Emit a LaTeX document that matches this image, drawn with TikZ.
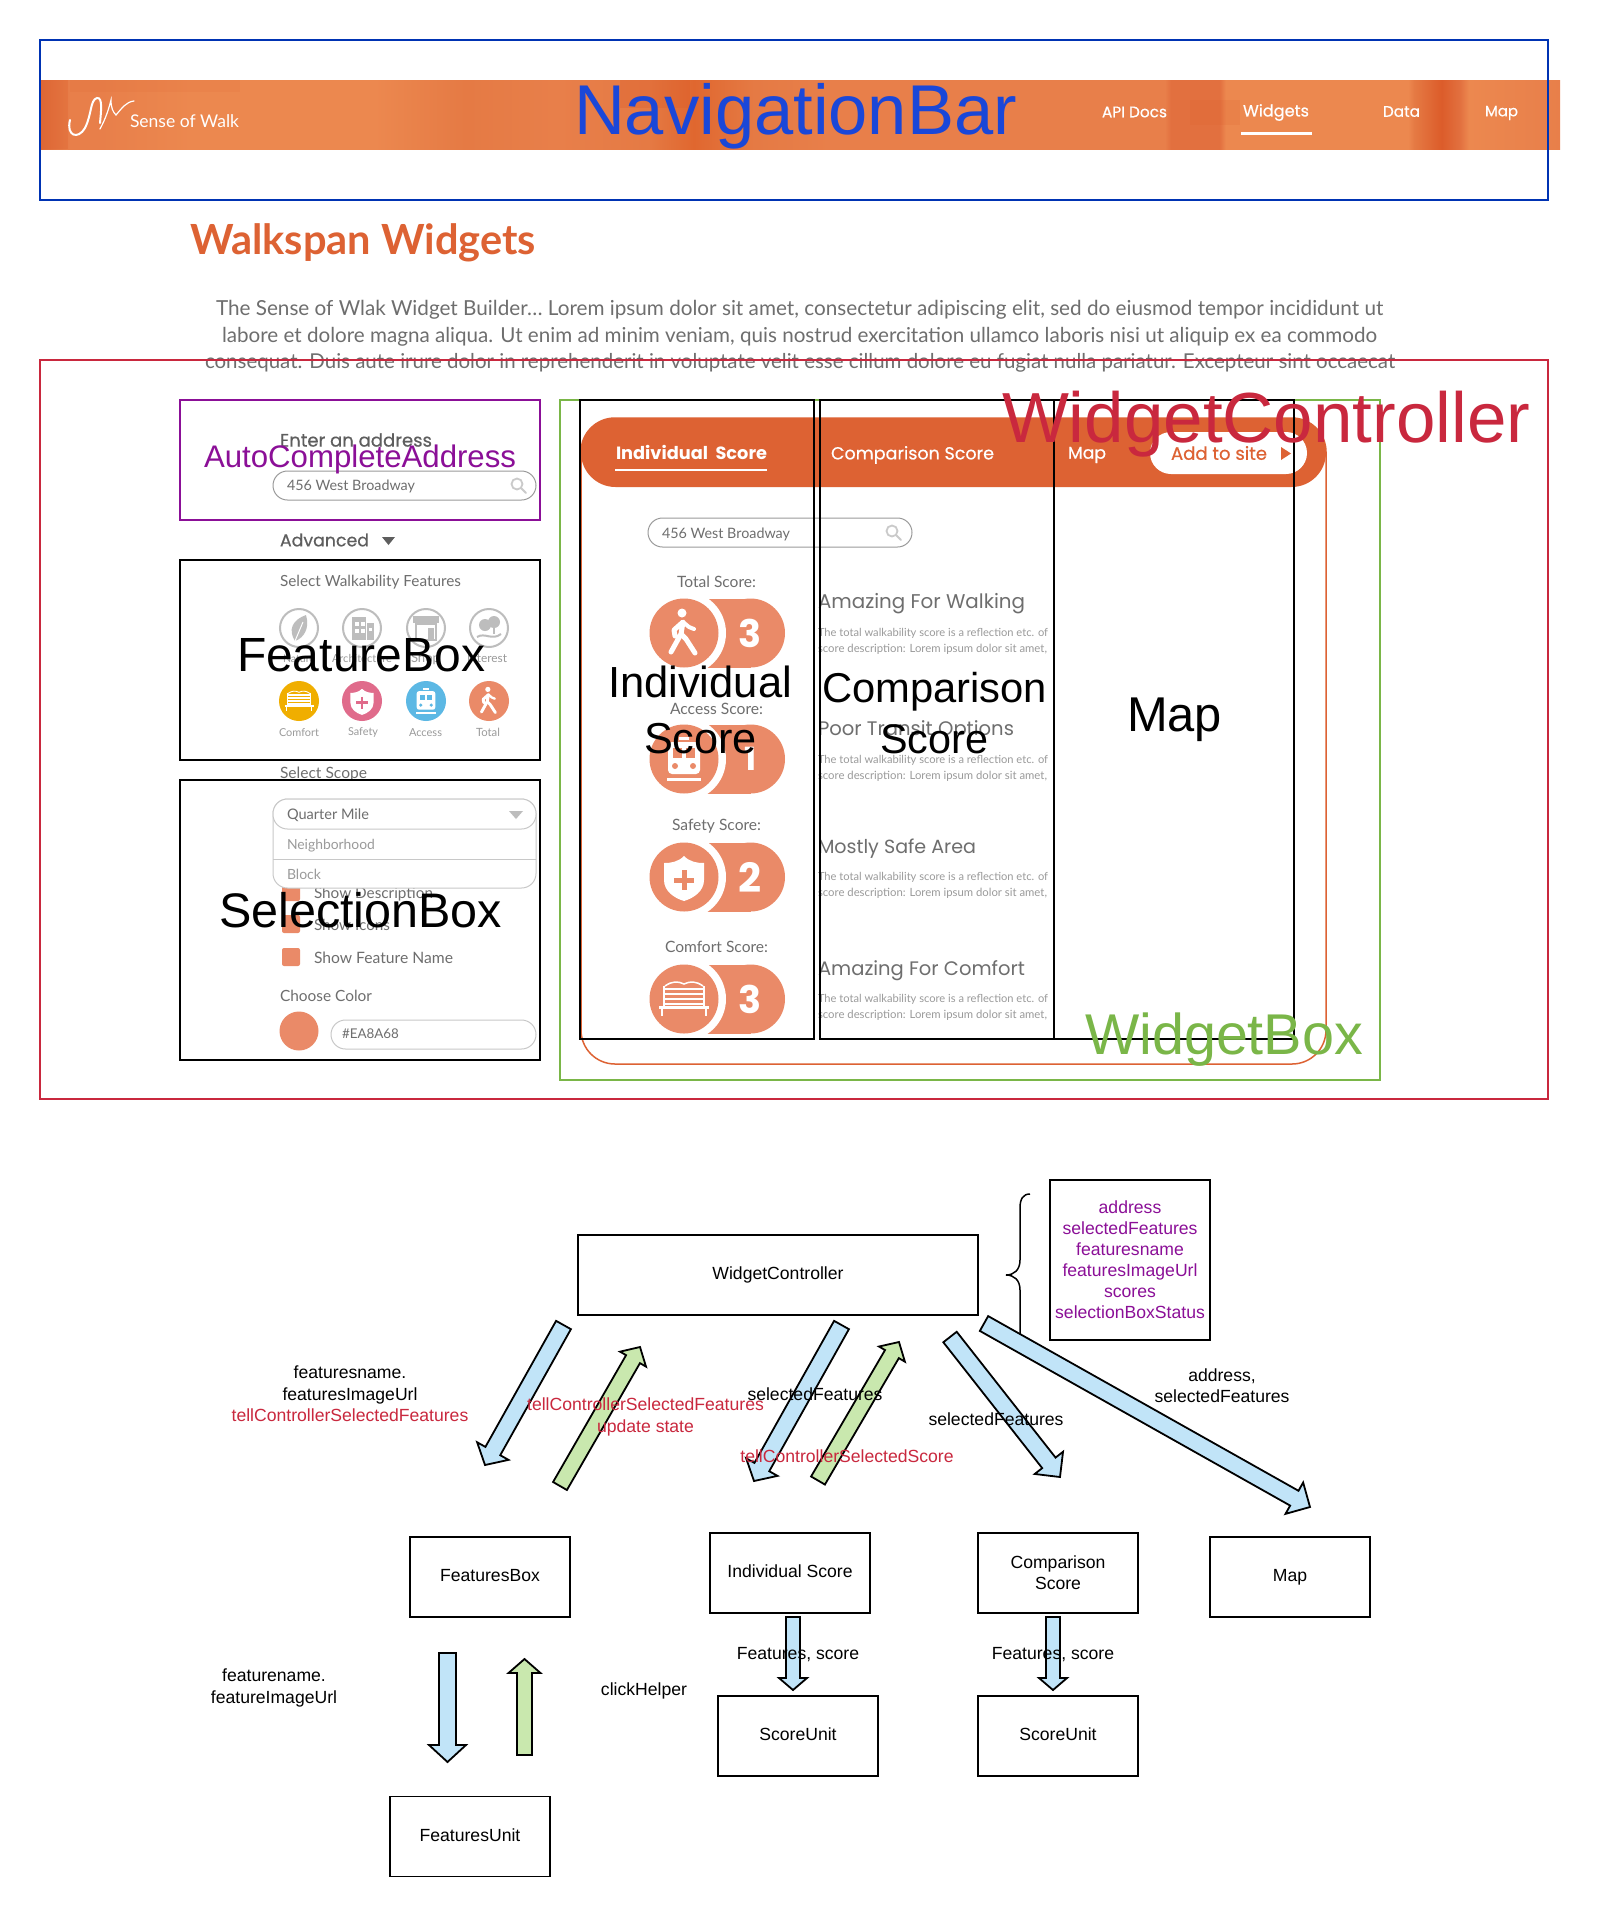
\documentclass[tikz,border=0pt]{standalone}
\usepackage{fontspec}
\usepackage{graphicx}
\usetikzlibrary{calc}
\setmainfont{Liberation Sans}
\newfontfamily\ari{Liberation Sans}
\newfontfamily\pop{Poppins}
\newfontfamily\popm[FakeBold=0.5]{Poppins}
\newfontfamily\lat{Lato}
\definecolor{navblue}{HTML}{0033B3}
\definecolor{navtext}{HTML}{1A47D8}
\definecolor{redc}{HTML}{C9283E}
\definecolor{purp}{HTML}{8B0F97}
\definecolor{greenb}{HTML}{7AB648}
\definecolor{orng}{HTML}{DD6233}
\definecolor{salm}{HTML}{EA8A68}
\definecolor{gtxt}{HTML}{6E6E6E}
\definecolor{ltxt}{HTML}{9A9A9A}
\definecolor{gic}{HTML}{BDBDBD}
\definecolor{pbord}{HTML}{C8C8C8}
\definecolor{arblue}{HTML}{C1E4F8}
\definecolor{argreen}{HTML}{C9E8AE}
\definecolor{bA}{HTML}{DE6A38}
\definecolor{bB}{HTML}{E87F4A}
\definecolor{bC}{HTML}{E0672F}
\definecolor{bD}{HTML}{E2703F}
\definecolor{bE}{HTML}{EC884F}
\definecolor{bF}{HTML}{DC5C2A}
\definecolor{bG}{HTML}{E57A44}
\definecolor{cy}{HTML}{F0AE00}
\definecolor{cp}{HTML}{E06B8B}
\definecolor{cb}{HTML}{5CB8E4}
% banner: position = 25 + 50*(x-40)/1520
\pgfdeclarehorizontalshading{bannershade}{100bp}{
 color(0bp)=(bA); color(25bp)=(bA); color(26bp)=(bB); color(27bp)=(bB); color(30bp)=(bE);
 color(36bp)=(bE); color(39bp)=(bG); color(42bp)=(bB); color(45bp)=(bG); color(46.5bp)=(bC);
 color(48.5bp)=(bG); color(51bp)=(bB); color(62bp)=(bB); color(62.2bp)=(bD); color(63.8bp)=(bD);
 color(64bp)=(bE); color(70bp)=(bE); color(70.2bp)=(bG); color(71.1bp)=(bF); color(71.7bp)=(bD);
 color(72bp)=(bE); color(75bp)=(bB); color(100bp)=(bB)}
\tikzset{
 lbl/.style={inner sep=0pt,outer sep=0pt,anchor=west},
 blackbox/.style={draw=black,line width=2pt,inner sep=0pt,rectangle},
 flowbox/.style={draw=black,line width=1.7pt,inner sep=0pt,rectangle,font=\fontsize{17.6pt}{21pt}\selectfont\ari,align=center,minimum width=160pt,minimum height=80pt},
 oneline/.style={text height=13pt,text depth=4pt},
 flowtxt/.style={inner sep=0pt,outer sep=0pt,align=center,font=\fontsize{17.6pt}{21.3pt}\selectfont\ari},
 blockarrow/.style={draw=black,line width=1.8pt,line join=miter},
 pillbox/.style={draw=pbord,line width=1pt,rounded corners=14.5pt,fill=white},
}
\newcounter{tc}
\newcommand\lb[6]{\stepcounter{tc}\edef\nm{t\arabic{tc}}\node[lbl,text=#4] (\nm) at (#1,#2) {\resizebox{#3pt}{!}{#5#6}};}
\newcommand\ltx[5]{\lb{#1}{#2+1.7}{#3}{#4}{\lat}{#5}}
\newcommand\barrow[6]{%
 \coordinate (bH) at ($(#2)!#5pt!(#1)$);
 \draw[blockarrow,fill=#6] ($(#1)!#3pt!90:(#2)$) -- ($(bH)!#3pt!90:(#2)$) -- ($(bH)!#4pt!90:(#2)$) -- (#2) -- ($(bH)!#4pt!-90:(#2)$) -- ($(bH)!#3pt!-90:(#2)$) -- ($(#1)!#3pt!-90:(#2)$) -- cycle;}
\newcommand\icoWalk[3]{\begin{scope}[shift={(#1,#2)},scale=#3]
 \fill[white] (-2,-20) circle (4.5);
 \draw[white,line width=#3*5pt,line cap=round,line join=round] (-13,19) -- (-3,1) -- (-1,-11) -- (-10,-3) -- (-9,3);
 \draw[white,line width=#3*5pt,line cap=round,line join=round] (-3,1) -- (2,6) -- (11,20);
 \draw[white,line width=#3*4pt,line cap=round,line join=round] (-1,-11) -- (5,-6) -- (10,-4);
\end{scope}}
\newcommand\icoTrain[4]{\begin{scope}[shift={(#1,#2)},scale=#3]
 \fill[white,rounded corners=#3*4pt] (-16,-17) rectangle (16,15);
 \fill[white] (-5,-22) rectangle (5,-19);
 \fill[#4] (-11,-11) rectangle (-2,-1);
 \fill[#4] (2,-11) rectangle (11,-1);
 \fill[#4] (-9,7) circle (3);
 \fill[#4] (9,7) circle (3);
 \fill[white] (-17,19) rectangle (17,22);
\end{scope}}
\newcommand\icoShield[4]{\begin{scope}[shift={(#1,#2)},scale=#3]
 \fill[white] (0,-21) .. controls (6,-15) and (13,-14) .. (20,-14) -- (20,3) .. controls (20,14) and (10,21) .. (0,24) .. controls (-10,21) and (-20,14) .. (-20,3) -- (-20,-14) .. controls (-13,-14) and (-6,-15) .. (0,-21) -- cycle;
 \draw[#4,line width=#3*5pt] (-10,3) -- (10,3) (0,-7) -- (0,13);
\end{scope}}
\newcommand\icoBench[3]{\begin{scope}[shift={(#1,#2)},scale=#3]
 \draw[white,line width=#3*1.5pt] (-19,-13) .. controls (-12,-18) and (-6,-18) .. (0,-15) .. controls (6,-18) and (12,-18) .. (19,-13);
 \draw[white,line width=#3*2.8pt] (-21,-10) -- (21,-10) (-21,-5) -- (21,-5) (-21,0) -- (21,0) (-21,5) -- (21,5);
 \draw[white,line width=#3*1.6pt] (-20,-13) -- (-20,7) (20,-13) -- (20,7);
 \draw[white,line width=#3*3pt] (-25,8) -- (25,8);
 \draw[white,line width=#3*2pt] (-22,9) -- (-22,17) (22,9) -- (22,17);
\end{scope}}
\newcommand\pillscore[3]{%
 \fill[salm] (690,#1-34.5) rectangle (750.5,#1+34.5);
 \fill[salm] (750.5,#1) circle (34.5);
 \fill[white] (684,#1) circle (42);
 \fill[salm] (684,#1) circle (34.5);
 \lb{750-#3/2}{#1}{#3}{white}{\pop\bfseries}{#2}
}
\newcommand\magn[2]{\draw[gic!80,line width=1.8pt,line cap=round] (#1-2,#2-2) circle (5.5) (#1+2,#2+2) -- (#1+7,#2+7);}
\begin{document}
\begin{tikzpicture}[x=1pt,y=-1pt]
\useasboundingbox (0,0) rectangle (1600,1917);
\fill[white] (0,0) rectangle (1600,1917);
% ---- navigation banner
\path[shading=bannershade] (40,80) rectangle (1560,149);
\fill[bF,opacity=.25] (40,80) rectangle (68,149);
\fill[bF,opacity=.1] (70,80) rectangle (240,92);
\fill[bF,opacity=.3] (620,80) rectangle (690,108);
\fill[bF,opacity=.15] (1190,100) rectangle (1240,125);
\draw[white,line width=2pt,line cap=round] (70,120) .. controls (66,136) and (78,140) .. (85,128) .. controls (92,114) and (90,100) .. (97,98) .. controls (103,97) and (101,112) .. (100,123);
\draw[white,line width=1.2pt,line cap=round] (100,129) .. controls (106,118) and (109,108) .. (111,100) .. controls (111,108) and (113,112) .. (116,115) .. controls (122,108) and (126,102) .. (134,101);
\ltx{130}{119}{109}{white}{Sense of Walk}
\lb{1102}{112}{65}{white}{\popm}{API Docs}
\lb{1243}{112.5}{66}{white}{\popm}{Widgets}
\lb{1383}{111.5}{37}{white}{\popm}{Data}
\lb{1485}{113}{33}{white}{\popm}{Map}
\draw[white,line width=3pt] (1241,133) -- (1312,133);
% ---- title and intro
\ltx{190}{241}{346}{orng}{\bfseries Walkspan Widgets}
\ltx{216}{308}{1167}{gtxt}{The Sense of Wlak Widget Builder… Lorem ipsum dolor sit amet, consectetur adipiscing elit, sed do eiusmod tempor incididunt ut}
\ltx{222}{335}{1155}{gtxt}{labore et dolore magna aliqua. Ut enim ad minim veniam, quis nostrud exercitation ullamco laboris nisi ut aliquip ex ea commodo}
\ltx{205}{361}{1190}{gtxt}{consequat. Duis aute irure dolor in reprehenderit in voluptate velit esse cillum dolore eu fugiat nulla pariatur. Excepteur sint occaecat}
% ---- left column
\lb{280}{440}{152}{gtxt!85!black}{\popm}{Enter an address}
\draw[gtxt!70,line width=1pt,rounded corners=14.5pt] (273,471) rectangle (536,500);
\ltx{287}{485}{128}{gtxt}{456 West Broadway}
\magn{519}{486}
\lb{280}{540}{89}{gtxt!85!black}{\popm}{Advanced}
\fill[gtxt!85!black] (382,537) -- (395,537) -- (388.5,545) -- cycle;
\ltx{280}{580}{181}{gtxt}{Select Walkability Features}
% grey icons
\foreach \cx in {299,362,426,489}{\draw[gic,line width=2pt] (\cx,628) circle (19);}
\fill[gic] (295,641) .. controls (288,630) and (292,620) .. (306,615) .. controls (310,628) and (304,638) .. (295,641) -- cycle;
\draw[white,line width=1pt] (295,641) -- (303,622);
\fill[gic] (352,617) rectangle (366,640);
\fill[gic] (367,623) rectangle (374,640);
\foreach \wx in {354.5,360.5}{\foreach \wy in {622,629}{\fill[white] (\wx,\wy) rectangle (\wx+4,\wy+4);}}
\fill[white] (369,628) rectangle (372,631);
\fill[gic] (413,616) rectangle (439,623);
\draw[gic,line width=1.6pt] (416,624) rectangle (436,640);
\fill[gic] (428,628) rectangle (434,640);
\fill[gic] (485,625) circle (6);
\fill[gic] (494,622) circle (6);
\draw[gic,line width=1.5pt] (494,622) -- (494,634);
\draw[gic,line width=2pt] (477,637) .. controls (485,632) and (492,641) .. (501,634);
\ltx{283}{657}{32}{ltxt}{Nature}
\ltx{332}{657}{60}{ltxt}{Architecture}
\ltx{411}{657}{29}{ltxt}{Shop}
\ltx{467}{657}{40}{ltxt}{Interest}
\fill[cy] (299,701) circle (20);
\icoBench{299}{701}{0.58}
\fill[cp] (362,701) circle (20);
\icoShield{362}{701}{0.58}{cp}
\fill[cb] (426,701) circle (20);
\icoTrain{426}{701}{0.58}{cb}
\fill[salm] (489,701) circle (20);
\icoWalk{489}{701}{0.58}
\ltx{279}{730.5}{40}{ltxt}{Comfort}
\ltx{348}{731}{30}{ltxt}{Safety}
\ltx{409}{731}{33}{ltxt}{Access}
\ltx{476}{730.5}{24}{ltxt}{Total}
\ltx{280}{772}{87}{gtxt}{Select Scope}
% checks
\foreach \sy in {892,924,957}{\fill[salm,rounded corners=2pt] (282,\sy-9) rectangle (300,\sy+9);}
\ltx{314}{892}{119}{gtxt}{Show Description}
\ltx{314}{923}{76}{gtxt}{Show Icons}
\ltx{314}{956.5}{139}{gtxt}{Show Feature Name}
% dropdown
\draw[pillbox] (273,799) rectangle (536,888);
\draw[pillbox] (273,799) rectangle (536,829);
\draw[pbord,line width=1pt] (273,859) -- (536,859);
\ltx{287}{814}{82}{gtxt}{Quarter Mile}
\ltx{287}{844}{88}{ltxt}{Neighborhood}
\ltx{287}{872.5}{34}{ltxt}{Block}
\fill[gic] (509,811) -- (523,811) -- (516,819) -- cycle;
\ltx{280}{994}{92}{gtxt}{Choose Color}
\fill[salm] (299,1031) circle (19.5);
\draw[pillbox] (331,1020) rectangle (536,1049);
\ltx{342}{1032}{57}{gtxt}{\#EA8A68}
% ---- widget
\draw[orng,line width=1.5pt,rounded corners=34pt] (581,418) rectangle (1326,1064);
\fill[orng,rounded corners=34.5pt] (581,418) rectangle (1326,487);
\lb{616}{452}{151}{white}{\pop\bfseries}{Individual\ \ Score}
\draw[white,line width=1.5pt] (615,470) -- (767,470);
\lb{831}{455}{163}{white}{\popm}{Comparison Score}
\lb{1068}{455}{38}{white}{\popm}{Map}
\fill[white,rounded corners=21pt] (1150,432) rectangle (1307,474);
\lb{1171}{453}{96}{orng}{\popm}{Add to site}
\fill[orng] (1281,447) -- (1291,453.5) -- (1281,460) -- cycle;
\draw[gtxt!70,line width=1pt,rounded corners=14.5pt] (648,518) rectangle (912,547);
\ltx{662}{532.5}{128}{gtxt}{456 West Broadway}
\magn{894}{533}
\ltx{677}{580}{79}{gtxt}{Total Score:}
\ltx{670}{707}{93}{gtxt}{Access Score:}
\ltx{672}{824}{89}{gtxt}{Safety Score:}
\ltx{665}{945.5}{103}{gtxt}{Comfort Score:}
\pillscore{633}{3}{23}
\icoWalk{684}{633}{1}
\pillscore{759}{1}{12}
\icoTrain{684}{759}{1}{salm}
\pillscore{877}{2}{23}
\icoShield{684}{877}{1}{salm}
\pillscore{999}{3}{23}
\icoBench{684}{999}{1}
\lb{818}{604}{207}{gtxt}{\pop}{Amazing For Walking}
\ltx{818}{632}{230}{ltxt}{The total walkability score is a reflection etc. of}
\ltx{818}{647.5}{229}{ltxt}{score description: Lorem ipsum dolor sit amet,}
\lb{818}{731}{196}{gtxt}{\pop}{Poor Transit Options}
\ltx{818}{759}{230}{ltxt}{The total walkability score is a reflection etc. of}
\ltx{818}{774.5}{229}{ltxt}{score description: Lorem ipsum dolor sit amet,}
\lb{818}{849}{158}{gtxt}{\pop}{Mostly Safe Area}
\ltx{818}{876}{230}{ltxt}{The total walkability score is a reflection etc. of}
\ltx{818}{891.5}{229}{ltxt}{score description: Lorem ipsum dolor sit amet,}
\lb{818}{971}{207}{gtxt}{\pop}{Amazing For Comfort}
\ltx{818}{998}{230}{ltxt}{The total walkability score is a reflection etc. of}
\ltx{818}{1013.5}{229}{ltxt}{score description: Lorem ipsum dolor sit amet,}
% ---- overlay outlines
\draw[navblue,line width=1.8pt] (40,40) rectangle (1548,200);
\draw[redc,line width=1.8pt] (40,360) rectangle (1548,1099);
\draw[greenb,line width=1.8pt] (560,400) rectangle (1380,1080);
\draw[purp,line width=1.8pt] (180,400) rectangle (540,520);
\node[blackbox,minimum width=360pt,minimum height=200pt] (featurebox) at (360,660) {};
\node[blackbox,minimum width=360pt,minimum height=280pt] (selectionbox) at (360,920) {};
\node[blackbox,minimum width=234pt,minimum height=639pt] (individualbox) at (697,719.5) {};
\node[blackbox,minimum width=234pt,minimum height=639pt] (comparisonbox) at (937,719.5) {};
\node[blackbox,minimum width=240pt,minimum height=639pt] (mapbox) at (1174,719.5) {};
% ---- overlay labels
\lb{574}{116}{443}{navtext}{\ari}{NavigationBar}
\lb{1002}{424.5}{528}{redc}{\ari}{WidgetController}
\lb{1085}{1039.5}{278}{greenb}{\ari}{WidgetBox}
\lb{204}{459}{312}{purp}{\ari}{AutoCompleteAddress}
\lb{237}{655}{248}{black}{\ari}{FeatureBox}
\lb{219}{910}{283}{black}{\ari}{SelectionBox}
\lb{608}{682}{184}{black}{\ari}{Individual}
\lb{644}{738.5}{113}{black}{\ari}{Score}
\lb{822}{692}{225}{black}{\ari}{Comparison}
\lb{880}{739}{108}{black}{\ari}{Score}
\lb{1127}{719.5}{95}{black}{\ari}{Map}
% ---- flow diagram
\node[flowbox,oneline,minimum width=400pt] (wc) at (778,1275) {WidgetController};
\node[flowbox,minimum height=160pt,text=purp] (state) at (1130,1260) {address\\selectedFeatures\\featuresname\\featuresImageUrl\\scores\\selectionBoxStatus};
\node[flowbox,oneline] (fbox) at (490,1577) {FeaturesBox};
\node[flowbox,oneline] (indiv) at (790,1573) {Individual Score};
\node[flowbox] (comp) at (1058,1573) {Comparison\\Score};
\node[flowbox,oneline] (mapn) at (1290,1577) {Map};
\node[flowbox,oneline] (su1) at (798,1736) {ScoreUnit};
\node[flowbox,oneline] (su2) at (1058,1736) {ScoreUnit};
\node[flowbox,oneline] (funit) at (470,1836.5) {FeaturesUnit};
% brace
\coordinate (brT) at (1030,1194);
\coordinate (brM) at (1006,1275);
\coordinate (brB) at (1030,1356);
\draw[black,line width=1.5pt] (brT) .. controls (1023,1194) and (1020,1199) .. (1020,1208) -- (1020,1260) .. controls (1020,1270) and (1014,1275) .. (brM) .. controls (1014,1275) and (1020,1280) .. (1020,1290) -- (1020,1342) .. controls (1020,1351) and (1023,1356) .. (brB);
% block arrows
\coordinate (a1s) at (563.5,1325); \coordinate (a1e) at (485,1465);
\coordinate (a2s) at (560,1486);   \coordinate (a2e) at (640,1347);
\coordinate (a3s) at (841.5,1325); \coordinate (a3e) at (754,1481);
\coordinate (a4s) at (818,1480.5); \coordinate (a4e) at (899,1342);
\coordinate (a5s) at (950,1337);   \coordinate (a5e) at (1060,1477);
\coordinate (a6s) at (984,1323.5); \coordinate (a6e) at (1310,1507);
\coordinate (b1s) at (447.5,1653); \coordinate (b1e) at (447.5,1762);
\coordinate (b2s) at (524.5,1755); \coordinate (b2e) at (524.5,1659);
\coordinate (b3s) at (793,1617);   \coordinate (b3e) at (793,1690);
\coordinate (b4s) at (1053,1617);  \coordinate (b4e) at (1053,1690);
\barrow{a1s}{a1e}{8.5}{18}{16}{arblue}
\barrow{a2s}{a2e}{8}{15}{14}{argreen}
\barrow{a3s}{a3e}{8.5}{18}{16}{arblue}
\barrow{a4s}{a4e}{8}{15}{14}{argreen}
\barrow{a5s}{a5e}{8.5}{18}{18}{arblue}
\barrow{a6s}{a6e}{8.5}{18}{18}{arblue}
\barrow{b1s}{b1e}{8.5}{18.5}{17}{arblue}
\barrow{b2s}{b2e}{7.5}{16}{14}{argreen}
\barrow{b3s}{b3e}{7}{14}{12}{arblue}
\barrow{b4s}{b4e}{7}{14}{12}{arblue}
% flow labels
\node[flowtxt] (l1) at (350,1385) {featuresname.\\featuresImageUrl};
\node[flowtxt,text=redc] (l2) at (350,1415) {tellControllerSelectedFeatures};
\node[flowtxt,text=redc] (l3) at (645.5,1417) {tellControllerSelectedFeatures\\update state};
\node[flowtxt] (l4) at (815,1394.5) {selectedFeatures};
\node[flowtxt,text=redc] (l5) at (847,1456) {tellControllerSelectedScore};
\node[flowtxt] (l6) at (996,1419) {selectedFeatures};
\node[flowtxt] (l7) at (1222,1386) {address,\\selectedFeatures};
\node[flowtxt] (l8) at (274,1688) {featurename.\\featureImageUrl};
\node[flowtxt] (l9) at (644,1691) {clickHelper};
\node[flowtxt] (l10) at (798,1655) {Features, score};
\node[flowtxt] (l11) at (1053,1655) {Features, score};
\end{tikzpicture}
\end{document}
